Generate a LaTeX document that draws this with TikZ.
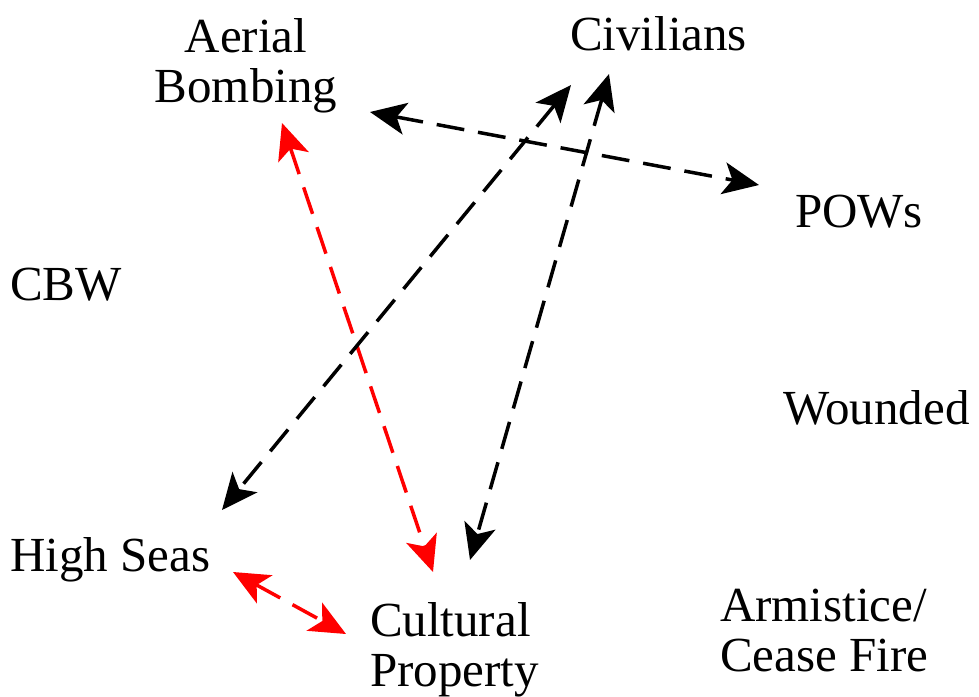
\documentclass[tikz,border=0pt]{standalone}
\usepackage{fontspec}
\setmainfont{Liberation Serif}
\usetikzlibrary{arrows.meta}
\definecolor{arrred}{RGB}{255,0,0}
\tikzset{
  lbl/.style={inner sep=0pt, outer sep=0pt, font=\fontsize{49}{50}\selectfont},
  tipstyle/.style={},
  conn/.style={line width=3.5pt, dash pattern=on 28pt off 14pt,
    {Stealth[length=36pt,width=32pt,inset=9pt]}-{Stealth[length=36pt,width=32pt,inset=9pt]}},
  connblack/.style={conn, black},
  connred/.style={conn, arrred}
}
\begin{document}
\begin{tikzpicture}[x=1pt,y=-1pt]
\useasboundingbox (0,0) rectangle (979,696);
\node[lbl, anchor=base] (ab) at (246,52) {\begin{tabular}[t]{@{}c@{}}Aerial\\Bombing\end{tabular}};
\node[lbl, anchor=base west] (civ) at (570,50) {Civilians};
\node[lbl, anchor=base west] (pow) at (795,227) {POWs};
\node[lbl, anchor=base west] (cbw) at (10,300) {CBW};
\node[lbl, anchor=base west] (wnd) at (783,424) {Wounded};
\node[lbl, anchor=base west] (hs) at (10,571) {High Seas};
\node[lbl, anchor=base west] (cp) at (370,636) {\begin{tabular}[t]{@{}l@{}}Cultural\\Property\end{tabular}};
\node[lbl, anchor=base west] (arm) at (720,621) {\begin{tabular}[t]{@{}l@{}}Armistice/\\Cease Fire\end{tabular}};
% connectors
\draw[connblack] ([shift={(124,60)}]ab.base) -- ([shift={(-36,-42)}]pow.base west);
\draw[connred] ([shift={(36,71)}]ab.base) -- ([shift={(63,-64)}]cp.base west);
\draw[connblack] ([shift={(1,35)}]civ.base west) -- ([shift={(212,-61)}]hs.base west);
\draw[connblack] ([shift={(39,24)}]civ.base west) -- ([shift={(100,-76)}]cp.base west);
\draw[connred] ([shift={(223,1)}]hs.base west) -- ([shift={(-24,-2)}]cp.base west);
\end{tikzpicture}
\end{document}
